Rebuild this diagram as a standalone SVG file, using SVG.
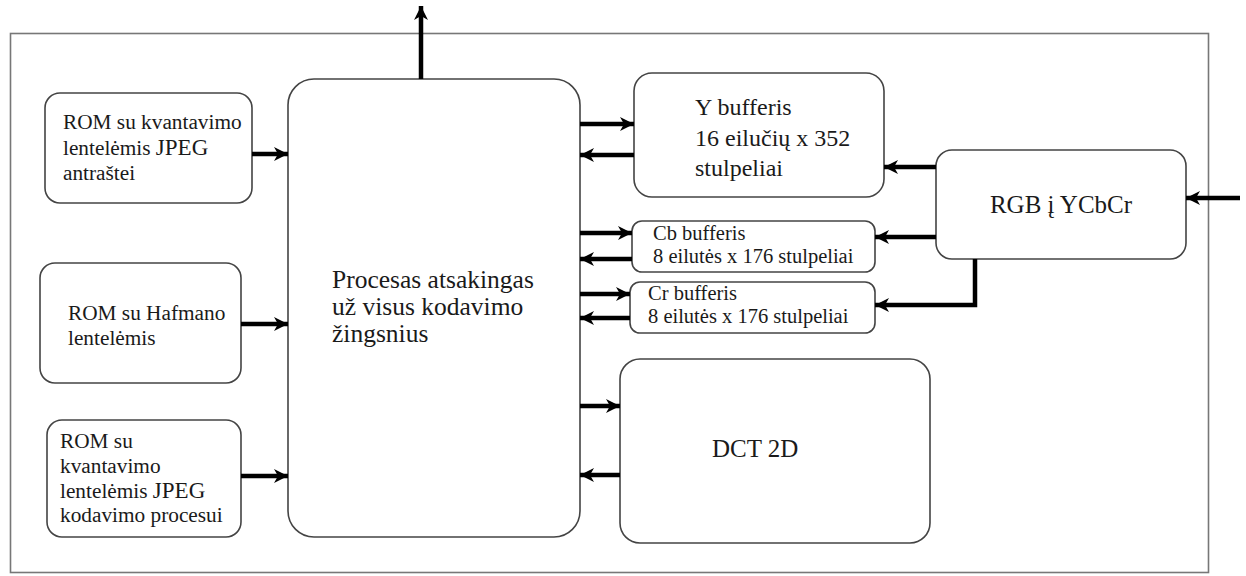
<svg xmlns="http://www.w3.org/2000/svg" width="1246" height="576" viewBox="0 0 1246 576">
  <defs>
    <marker id="ah" markerUnits="userSpaceOnUse" markerWidth="16" markerHeight="16" refX="14" refY="7" orient="auto">
      <path d="M0,0 L14,7 L0,14 L4,7 Z" fill="#000"/>
    </marker>
  </defs>
  <style>
    .box { fill: #fff; stroke: #444; stroke-width: 1.6; }
    .frame { fill: none; stroke: #777; stroke-width: 1.6; }
    text { font-family: 'Liberation Serif', 'DejaVu Serif', serif; fill: #1a1a1a; }
    .s20 { font-size: 20.5px; }
    .r { font-size: 21.3px; }
    .s24 { font-size: 24px; }
    .s25 { font-size: 25px; }
    .p { font-size: 25.5px; }
    .j { font-size: 23px; }
    .arr { fill: none; stroke: #000; stroke-width: 4.5; marker-end: url(#ah); }
  </style>
  <rect x="0" y="0" width="1246" height="576" fill="#fff"/>
  <rect class="frame" x="10.5" y="33.5" width="1198" height="539"/>

  <g id="rom1">
    <rect class="box" x="45" y="93" width="207" height="110" rx="15"/>
    <text class="r" x="63" y="129">ROM su kvantavimo</text>
    <text class="r" x="63" y="155">lentelėmis <tspan class="j">JPEG</tspan></text>
    <text class="r" x="63" y="180">antraštei</text>
  </g>

  <g id="rom2">
    <rect class="box" x="40" y="263" width="201" height="120" rx="15"/>
    <text class="r" x="68" y="320">ROM su Hafmano</text>
    <text class="r" x="68" y="345">lentelėmis</text>
  </g>

  <g id="rom3">
    <rect class="box" x="47" y="420" width="194" height="117" rx="15"/>
    <text class="r" x="60" y="448">ROM su</text>
    <text class="r" x="60" y="473">kvantavimo</text>
    <text class="r" x="60" y="498">lentelėmis <tspan class="j">JPEG</tspan></text>
    <text class="r" x="60" y="522">kodavimo procesui</text>
  </g>

  <g id="processor">
    <rect class="box" x="288" y="79" width="292" height="458" rx="26"/>
    <text class="p" x="332" y="288">Procesas atsakingas</text>
    <text class="p" x="332" y="315">už visus kodavimo</text>
    <text class="p" x="332" y="342">žingsnius</text>
  </g>

  <g id="ybuf">
    <rect class="box" x="634" y="73" width="250" height="124" rx="18"/>
    <text class="s24" x="695" y="115">Y bufferis</text>
    <text class="s24" x="695" y="146">16 eilučių x 352</text>
    <text class="s24" x="695" y="176">stulpeliai</text>
  </g>

  <g id="cbbuf">
    <rect class="box" x="632" y="221" width="243" height="51" rx="10"/>
    <text class="s20" x="653" y="240">Cb bufferis</text>
    <text class="s20" x="653" y="263">8 eilutės x 176 stulpeliai</text>
  </g>

  <g id="crbuf">
    <rect class="box" x="630" y="282" width="245" height="51" rx="10"/>
    <text class="s20" x="648" y="300">Cr bufferis</text>
    <text class="s20" x="648" y="323">8 eilutės x 176 stulpeliai</text>
  </g>

  <g id="rgb">
    <rect class="box" x="936" y="150" width="250" height="109" rx="16"/>
    <text class="s25" x="1061" y="213" text-anchor="middle">RGB į YCbCr</text>
  </g>

  <g id="dct">
    <rect class="box" x="620" y="359" width="310" height="184" rx="20"/>
    <text class="s25" x="712" y="457">DCT 2D</text>
  </g>

  <g id="connectors">
    <path class="arr" d="M421,79 V6"/>
    <path class="arr" d="M252,154 H288"/>
    <path class="arr" d="M241,324 H288"/>
    <path class="arr" d="M241,476 H288"/>
    <path class="arr" d="M580,124 H634"/>
    <path class="arr" d="M634,155 H580"/>
    <path class="arr" d="M580,233 H632"/>
    <path class="arr" d="M632,259 H580"/>
    <path class="arr" d="M580,294 H630"/>
    <path class="arr" d="M630,318 H580"/>
    <path class="arr" d="M580,406 H620"/>
    <path class="arr" d="M620,475 H580"/>
    <path class="arr" d="M936,167 H884"/>
    <path class="arr" d="M936,237 H875"/>
    <path class="arr" d="M975,259 V305 H875"/>
    <path class="arr" d="M1240,198 H1186"/>
  </g>
</svg>
